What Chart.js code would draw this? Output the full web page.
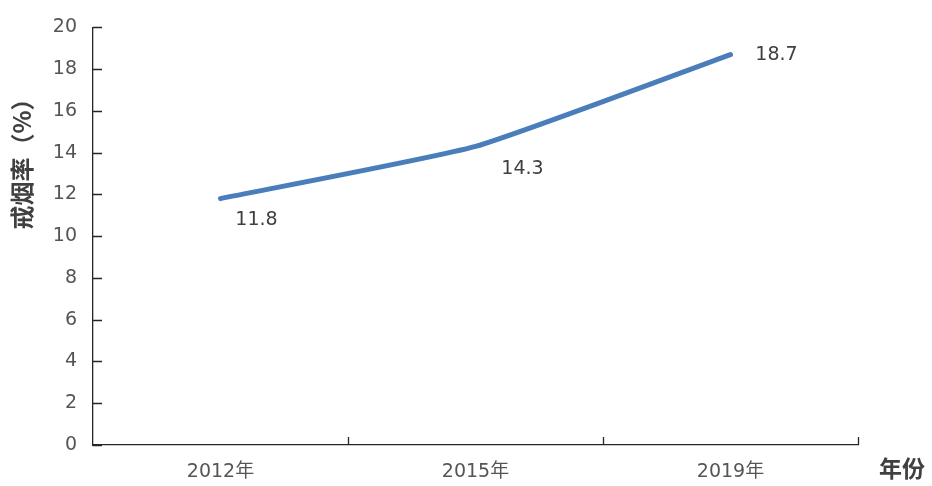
<!DOCTYPE html>
<html>
<head>
<meta charset="utf-8">
<script src="https://cdn.jsdelivr.net/npm/chart.js@4/dist/chart.umd.min.js"></script>
<style>
  html, body { margin: 0; padding: 0; background: #ffffff; }
  #wrap { width: 932px; height: 486px; position: relative; }
</style>
</head>
<body>
<div id="wrap"><canvas id="c" width="932" height="486"></canvas></div>
<script>
// Smoking-cessation rate by survey year
const years = ['2012年', '2015年', '2019年'];
const quitRate = [11.8, 14.3, 18.7];
const yTicks = [0, 2, 4, 6, 8, 10, 12, 14, 16, 18, 20];

const yTitle = '戒烟率（%）';
const xTitle = '年份';

const TEXT = '#555555';
const AXIS = '#262626';
const LINE = '#4a7ebb';
const FONT = '"DejaVu Sans", "Noto Sans CJK SC", sans-serif';
const TITLE_FONT = '"Noto Sans CJK SC", "DejaVu Sans", sans-serif';

// Inward tick marks on both axes (y at every value, x at category boundaries)
const innerTicks = {
  id: 'innerTicks',
  afterDraw(chart) {
    const { ctx, chartArea: a } = chart;
    const ys = chart.scales.y;
    ctx.save();
    ctx.strokeStyle = AXIS;
    ctx.lineWidth = 1.3;
    ctx.beginPath();
    ys.ticks.forEach(t => {
      const py = Math.round(ys.getPixelForValue(t.value)) + 0.5;
      ctx.moveTo(a.left, py);
      ctx.lineTo(a.left + 9, py);
    });
    const n = years.length;
    for (let i = 1; i <= n; i++) {
      const px = Math.round(a.left + (a.right - a.left) * i / n) + 0.5;
      ctx.moveTo(px, a.bottom);
      ctx.lineTo(px, a.bottom - 8);
    }
    ctx.stroke();
    ctx.restore();
  }
};

// Value labels beside each point
const pointLabels = {
  id: 'pointLabels',
  afterDatasetsDraw(chart, args, opts) {
    const { ctx } = chart;
    const meta = chart.getDatasetMeta(0);
    const ds = chart.data.datasets[0];
    ctx.save();
    ctx.font = '19px ' + FONT;
    ctx.fillStyle = '#404040';
    ctx.textAlign = 'center';
    ctx.textBaseline = 'middle';
    meta.data.forEach((pt, i) => {
      const off = opts.offsets[i] || [0, 0];
      ctx.fillText(ds.data[i].toFixed(1), pt.x + off[0], pt.y + off[1]);
    });
    ctx.restore();
  }
};

// Axis titles: rotated y title at the left, x title at the right end of the axis
const axisTitles = {
  id: 'axisTitles',
  afterDraw(chart) {
    const { ctx, chartArea: a } = chart;
    ctx.save();
    ctx.fillStyle = '#404040';
    ctx.textAlign = 'center';
    ctx.textBaseline = 'middle';
    ctx.font = 'bold 24px ' + TITLE_FONT;
    ctx.save();
    ctx.translate(22, 158);
    ctx.rotate(-Math.PI / 2);
    ctx.fillText(yTitle, 0, 0);
    ctx.restore();
    ctx.font = 'bold 23px ' + TITLE_FONT;
    ctx.fillText(xTitle, a.right + 44, a.bottom + 23);
    ctx.restore();
  }
};

new Chart(document.getElementById('c'), {
  type: 'line',
  data: {
    labels: years,
    datasets: [{
      data: quitRate,
      borderColor: LINE,
      borderWidth: 5,
      borderCapStyle: 'round',
      tension: 0.15,
      pointRadius: 0,
      pointHoverRadius: 0,
      fill: false
    }]
  },
  options: {
    responsive: false,
    animation: false,
    events: [],
    layout: { padding: { left: 0, top: 24, right: 74, bottom: 0 } },
    plugins: {
      legend: { display: false },
      tooltip: { enabled: false },
      pointLabels: { offsets: [[36, 21], [47, 23], [46, 1]] }
    },
    scales: {
      x: {
        offset: true,
        grid: { display: false, drawTicks: false },
        border: { display: true, color: AXIS, width: 1.3 },
        ticks: { color: TEXT, font: { size: 19, family: FONT }, padding: 16, maxRotation: 0 },
        afterFit(s) { s.height = 41; }
      },
      y: {
        min: 0,
        max: 20,
        afterBuildTicks(s) { s.ticks = yTicks.map(v => ({ value: v })); },
        grid: { display: false, drawTicks: false },
        border: { display: true, color: AXIS, width: 1.3 },
        ticks: { color: TEXT, font: { size: 19, family: FONT }, padding: 16 },
        afterFit(s) { s.width = 93; }
      }
    }
  },
  plugins: [innerTicks, pointLabels, axisTitles]
});
</script>
</body>
</html>
